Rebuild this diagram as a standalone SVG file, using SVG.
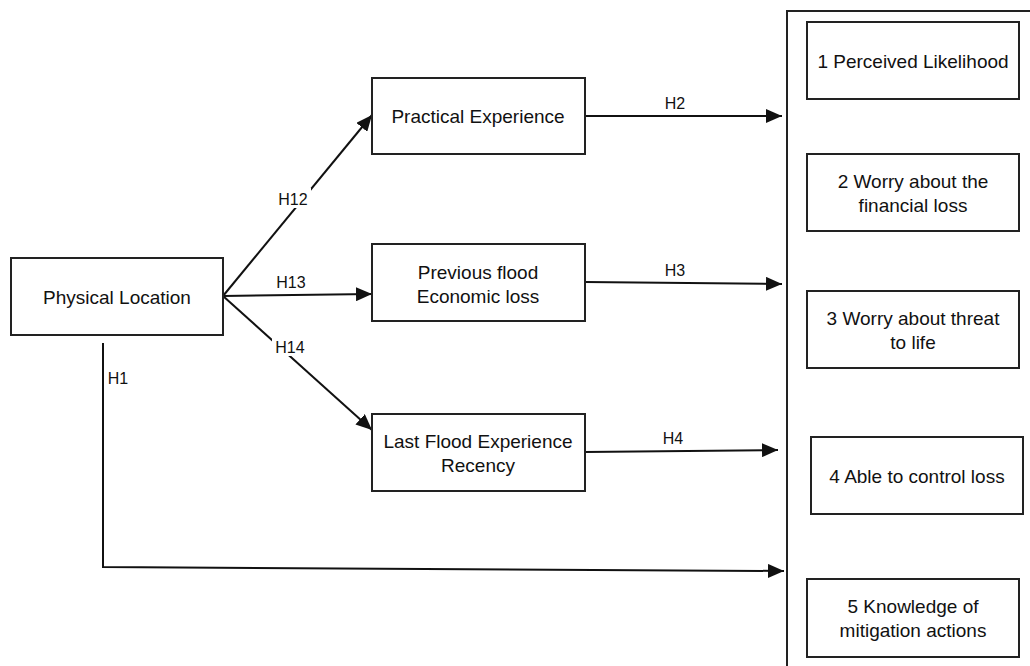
<svg xmlns="http://www.w3.org/2000/svg" width="1030" height="666" viewBox="0 0 1030 666">
<style>
.box{fill:#fff;stroke:#222;stroke-width:2}
.t{font-family:"Liberation Sans",Arial,sans-serif;font-size:19px;fill:#111;text-anchor:middle}
.l{font-family:"Liberation Sans",Arial,sans-serif;font-size:16px;fill:#111;text-anchor:middle}
.c{fill:none;stroke:#111;stroke-width:2}
</style>
<defs>
<marker id="ah" markerWidth="16" markerHeight="14" refX="16" refY="7" orient="auto" markerUnits="userSpaceOnUse">
<path d="M0,0 L16,7 L0,14 Z" fill="#111"/>
</marker>
</defs>
<rect width="1030" height="666" fill="#fff"/>
<g id="container"><rect x="787" y="11" width="260" height="680" class="box"/></g>
<g id="connectors">
<line x1="585" y1="116" x2="782" y2="116" class="c" marker-end="url(#ah)"/>
<line x1="585" y1="282" x2="782" y2="284" class="c" marker-end="url(#ah)"/>
<line x1="585" y1="452" x2="778" y2="450" class="c" marker-end="url(#ah)"/>
<line x1="223" y1="296" x2="372" y2="115" class="c" marker-end="url(#ah)"/>
<line x1="223" y1="296" x2="372" y2="294" class="c" marker-end="url(#ah)"/>
<line x1="223" y1="296" x2="372" y2="430" class="c" marker-end="url(#ah)"/>
<polyline points="103,343 103,567 784,571" class="c" marker-end="url(#ah)"/>
<rect x="275" y="188" width="36" height="20" fill="#fff"/>
<rect x="272" y="336" width="36" height="20" fill="#fff"/>
<text x="675" y="109" class="l">H2</text>
<text x="675" y="276" class="l">H3</text>
<text x="673" y="444" class="l">H4</text>
<text x="293" y="205" class="l">H12</text>
<text x="291" y="288" class="l">H13</text>
<text x="290" y="353" class="l">H14</text>
<text x="118" y="384" class="l">H1</text>
</g>
<g id="physical"><rect x="11" y="258" width="212" height="77" class="box"/><text x="117" y="304" class="t">Physical Location</text></g>
<g id="practical"><rect x="372" y="78" width="213" height="76" class="box"/><text x="478" y="123" class="t">Practical Experience</text></g>
<g id="previous"><rect x="372" y="244" width="213" height="77" class="box"/><text x="478" y="279" class="t">Previous flood</text><text x="478" y="303" class="t">Economic loss</text></g>
<g id="last"><rect x="372" y="414" width="213" height="77" class="box"/><text x="478" y="448" class="t">Last Flood Experience</text><text x="478" y="472" class="t">Recency</text></g>
<g id="n1"><rect x="807" y="22" width="212" height="77" class="box"/><text x="913" y="68" class="t">1 Perceived Likelihood</text></g>
<g id="n2"><rect x="807" y="154" width="212" height="77" class="box"/><text x="913" y="188" class="t">2 Worry about the</text><text x="913" y="212" class="t">financial loss</text></g>
<g id="n3"><rect x="807" y="291" width="212" height="77" class="box"/><text x="913" y="325" class="t">3 Worry about threat</text><text x="913" y="349" class="t">to life</text></g>
<g id="n4"><rect x="811" y="437" width="212" height="77" class="box"/><text x="917" y="483" class="t">4 Able to control loss</text></g>
<g id="n5"><rect x="807" y="579" width="212" height="78" class="box"/><text x="913" y="613" class="t">5 Knowledge of</text><text x="913" y="637" class="t">mitigation actions</text></g>
</svg>
